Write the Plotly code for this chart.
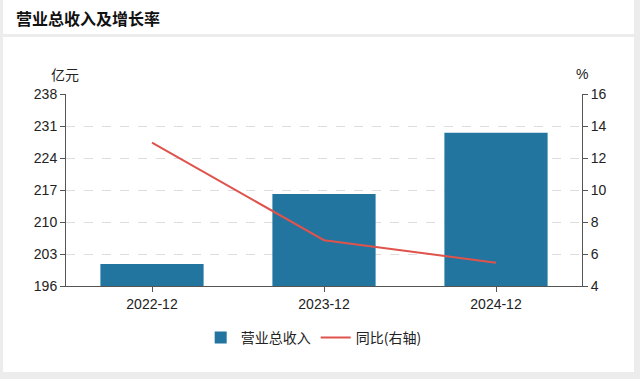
import plotly.graph_objects as go

categories = ["2022-12", "2023-12", "2024-12"]
revenue = [200.8, 216.1, 229.5]
yoy = [12.96, 6.86, 5.46]
left_ticks = [196, 203, 210, 217, 224, 231, 238]
right_ticks = [4, 6, 8, 10, 12, 14, 16]

W, H = 640, 379
L, R, T, B = 66, 58, 94, 93
pw, ph = W - L - R, H - T - B

def px(x):
    return (x - L) / pw

def py(y):
    return (H - B - y) / ph

FONT = "Liberation Sans, Arial, Noto Sans CJK SC"

fig = go.Figure()
fig.add_trace(go.Bar(x=categories, y=revenue, name="营业总收入",
                     marker=dict(color="#21759f", line=dict(width=0)),
                     width=0.6, yaxis="y"))
fig.add_trace(go.Scatter(x=categories, y=yoy, name="同比(右轴)", mode="lines",
                         line=dict(color="#e0534d", width=2), yaxis="y2"))

shapes = [
    dict(type="rect", xref="paper", yref="paper", x0=px(3), x1=px(634), y0=py(0), y1=py(34),
         fillcolor="white", line=dict(width=0), layer="below"),
    dict(type="rect", xref="paper", yref="paper", x0=px(3), x1=px(634), y0=py(37), y1=py(372),
         fillcolor="white", line=dict(width=0), layer="below"),
]

fig.update_layout(
    width=W, height=H,
    margin=dict(l=L, r=R, t=T, b=B),
    paper_bgcolor="#ececec",
    plot_bgcolor="white",
    font=dict(family=FONT, size=13, color="#222"),
    shapes=shapes,
    bargap=0.4,
    showlegend=True,
    legend=dict(orientation="h", x=0.48, xanchor="center", y=py(338), yanchor="middle",
                font=dict(size=14, color="#222", family="Noto Sans CJK SC, Liberation Sans"),
                bgcolor="rgba(0,0,0,0)",
                itemwidth=30, traceorder="normal"),
    xaxis=dict(type="category", showgrid=False, ticks="outside", ticklen=5, tickcolor="#555",
               showline=True, linecolor="#555", linewidth=1, tickfont=dict(size=14, color="#222")),
    yaxis=dict(range=[196, 238], tickvals=left_ticks, ticks="outside", ticklen=5, tickcolor="#555",
               showline=True, linecolor="#555", linewidth=1, showgrid=True, gridcolor="#dddddd",
               griddash="dash", zeroline=False, tickfont=dict(size=14, color="#222")),
    yaxis2=dict(range=[4, 16], tickvals=right_ticks, overlaying="y", side="right", ticks="outside",
                ticklen=5, tickcolor="#555", showline=True, linecolor="#555", linewidth=1,
                showgrid=False, zeroline=False, tickfont=dict(size=14, color="#222")),
    annotations=[
        dict(text="<b>营业总收入及增长率</b>", xref="paper", yref="paper", x=px(14), y=py(18),
             xanchor="left", yanchor="middle", showarrow=False,
             font=dict(size=16, color="#111", family="Noto Sans CJK SC")),
        dict(text="亿元", xref="paper", yref="paper", x=px(65), y=py(74),
             xanchor="center", yanchor="middle", showarrow=False,
             font=dict(size=14, color="#222", family="Noto Sans CJK SC")),
        dict(text="%", xref="paper", yref="paper", x=px(582), y=py(74),
             xanchor="center", yanchor="middle", showarrow=False,
             font=dict(size=14, color="#222")),
    ],
)

fig.write_html("out.html", config={"displayModeBar": False},
               post_script="document.body.style.margin='0';document.body.style.overflow='hidden';")
